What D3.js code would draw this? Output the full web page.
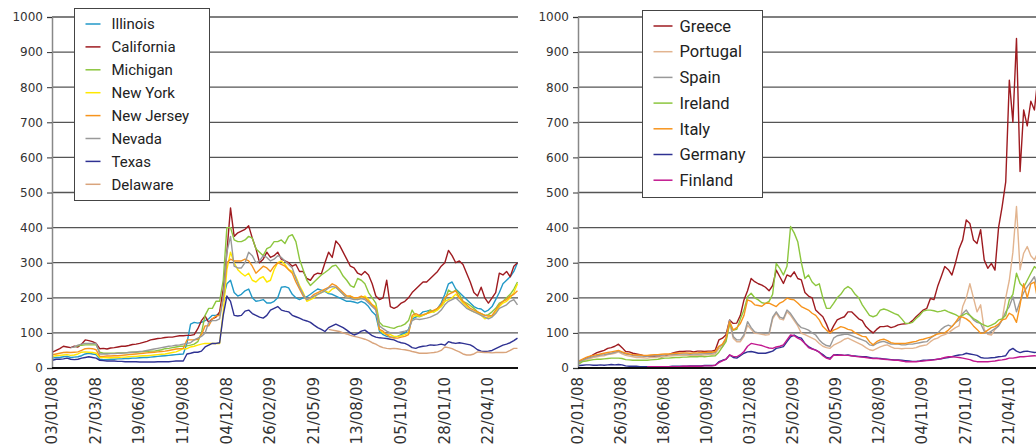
<!DOCTYPE html>
<html>
<head>
<meta charset="utf-8">
<script src="https://cdnjs.cloudflare.com/ajax/libs/d3/7.8.5/d3.min.js"></script>
<style>
  body { margin: 0; background: #fff; }
  svg { display: block; }
</style>
</head>
<body>
<div id="chart"></div>
<script>
// weekly observations (fridays), first one 04/01/08, 129 weeks
var firstWeek = "04/01/08";
var weekCount = 129;

var yTicks = [0, 100, 200, 300, 400, 500, 600, 700, 800, 900, 1000];
var leftTicks = ["03/01/08", "27/03/08", "19/06/08", "11/09/08", "04/12/08", "26/02/09",
                 "21/05/09", "13/08/09", "05/11/09", "28/01/10", "22/04/10"];
var rightTicks = ["02/01/08", "26/03/08", "18/06/08", "10/09/08", "03/12/08", "25/02/09",
                  "20/05/09", "12/08/09", "04/11/09", "27/01/10", "21/04/10"];

// ---- US states (left) ----
var illinois = [
  28, 30, 30, 32, 33, 30, 31, 32, 35, 40,
  42, 40, 38, 25, 24, 24, 25, 25, 26, 26,
  27, 27, 28, 28, 29, 30, 30, 31, 32, 33,
  34, 35, 36, 37, 38, 39, 40, 70, 125, 130,
  128, 130, 135, 140, 150, 150, 155, 200, 240, 250,
  215, 205, 210, 220, 225, 200, 190, 192, 195, 185,
  185, 190, 200, 230, 232, 228, 210, 200, 195, 200,
  203, 210, 218, 225, 222, 218, 212, 210, 205, 200,
  195, 190, 190, 188, 185, 190, 185, 175, 160, 150,
  105, 95, 90, 88, 88, 90, 95, 100, 110, 140,
  145, 150, 160, 162, 165, 160, 170, 185, 210, 240,
  245, 225, 215, 205, 195, 185, 175, 170, 168, 160,
  165, 175, 195, 215, 240, 250, 260, 275, 300
];
var california = [
  45, 50, 55, 62, 60, 58, 62, 60, 68, 80,
  78, 75, 70, 55, 56, 54, 57, 58, 60, 62,
  62, 64, 67, 68, 70, 73, 76, 80, 82, 84,
  85, 87, 88, 88, 90, 92, 92, 93, 93, 95,
  112, 135, 148, 130, 140, 145, 160, 225, 330, 456,
  375, 385, 390, 395, 405, 370, 340, 300, 310, 330,
  315, 320, 330, 310, 305, 300, 290, 295, 275, 275,
  255, 250, 265, 270, 268, 300, 330, 315, 362, 350,
  330, 310, 290, 285, 270, 265, 275, 265, 240, 205,
  195, 200, 250, 175, 170, 175, 185, 190, 200, 215,
  225, 235, 245, 245, 255, 265, 275, 290, 300, 335,
  320, 300, 305, 295, 270, 245, 215, 205, 230, 200,
  185, 200, 215, 270, 265, 275, 260, 290, 300
];
// michigan starts in week 6
var michigan = [
  60, 63, 65, 66,
  66, 66, 66, 45, 42, 42, 42, 42, 43, 43,
  43, 44, 45, 45, 46, 47, 47, 48, 48, 50,
  52, 55, 56, 58, 60, 62, 62, 63, 65, 68,
  75, 100, 150, 170, 170, 190, 190, 250, 400, 400,
  365, 360, 360, 365, 375, 370, 340, 330, 320, 340,
  345, 360, 360, 365, 355, 375, 380, 360, 310, 280,
  250, 235, 245, 255, 265, 272, 280, 290, 293, 280,
  262, 250, 235, 230, 255, 250, 240, 215, 200, 185,
  130, 120, 118, 115, 113, 118, 120, 125, 135, 165,
  148, 146, 150, 155, 165, 160, 170, 175, 190, 222,
  215, 222, 210, 190, 185, 178, 170, 160, 155, 150,
  152, 160, 170, 185, 190, 200, 210, 225, 245
];
var newYork = [
  33, 35, 36, 37, 38, 36, 37, 40, 45, 46,
  45, 44, 42, 30, 30, 29, 29, 30, 30, 31,
  31, 32, 33, 33, 34, 35, 35, 36, 37, 38,
  39, 40, 42, 44, 46, 50, 55, 55, 60, 62,
  65, 68, 70, 70, 70, 70, 70, 160, 280, 330,
  300, 280, 270, 262, 270, 250, 245, 255, 260, 245,
  250, 280, 300, 305, 295, 280, 275, 260, 235, 215,
  190, 195, 200, 210, 215, 220, 215, 225, 230, 220,
  210, 200, 205, 200, 195, 200, 205, 195, 180, 175,
  110, 100, 95, 95, 90, 90, 92, 95, 100, 145,
  150, 148, 150, 155, 158, 160, 165, 175, 190, 195,
  200, 210, 200, 185, 175, 165, 160, 158, 150, 140,
  145, 148, 160, 175, 185, 190, 200, 215, 240
];
var newJersey = [
  38, 40, 42, 44, 45, 44, 45, 46, 50, 55,
  56, 55, 52, 33, 33, 34, 34, 35, 35, 36,
  37, 38, 39, 40, 41, 42, 43, 44, 45, 46,
  47, 48, 50, 52, 54, 55, 56, 80, 80, 80,
  82, 95, 120, 120, 140, 148, 150, 200, 300, 310,
  305, 305, 305, 310, 305, 290, 270, 280, 290, 285,
  275, 290, 300, 295, 290, 280, 270, 245, 225, 205,
  195, 200, 210, 215, 220, 225, 230, 240, 235, 225,
  215, 205, 205, 200, 200, 205, 200, 190, 180, 170,
  110, 105, 95, 88, 85, 85, 88, 90, 95, 150,
  155, 150, 152, 155, 160, 165, 170, 180, 200, 210,
  215, 220, 200, 190, 180, 170, 165, 160, 155, 150,
  148, 150, 165, 180, 190, 195, 205, 210, 220
];
// nevada starts in week 5
var nevada = [
  58, 60, 65, 68, 70,
  70, 70, 70, 40, 40, 40, 41, 41, 42, 42,
  43, 44, 45, 46, 47, 48, 50, 52, 54, 56,
  58, 60, 62, 63, 65, 66, 68, 70, 72, 80,
  85, 90, 100, 130, 135, 135, 140, 200, 330, 375,
  290, 285, 285, 300, 330, 320, 300, 305, 320, 315,
  305, 310, 320, 315, 305, 295, 285, 255, 230, 210,
  195, 200, 205, 210, 215, 220, 228, 232, 230, 220,
  210, 200, 198, 195, 195, 198, 195, 185, 175, 165,
  120, 112, 105, 100, 100, 100, 103, 105, 108, 135,
  140, 138, 140, 142, 145, 150, 155, 165, 180, 190,
  195, 200, 190, 180, 170, 165, 160, 155, 150, 145,
  140, 145, 155, 170, 175, 180, 190, 195, 180
];
var texas = [
  22, 25, 25, 26, 28, 25, 24, 25, 28, 30,
  32, 30, 28, 22, 21, 20, 20, 20, 19, 19,
  18, 18, 18, 18, 17, 17, 17, 17, 17, 18,
  18, 18, 18, 19, 20, 20, 20, 40, 42, 45,
  45, 48, 60, 65, 70, 70, 72, 150, 205, 190,
  150, 148, 150, 162, 165, 155, 150, 145, 142, 150,
  165, 170, 175, 165, 162, 160, 150, 146, 142, 137,
  134, 130, 122, 115, 110, 104, 115, 120, 125, 120,
  115, 108, 100, 94, 98, 105, 108, 100, 92, 88,
  86, 85, 84, 82, 80, 75, 72, 70, 65, 58,
  56, 60, 62, 63, 66, 65, 66, 68, 65, 75,
  72, 70, 72, 70, 68, 66, 60, 52, 48, 47,
  48, 50, 55, 60, 65, 68, 72, 78, 85
];
// delaware starts in week 76
var delaware = [
  110, 108, 106, 104,
  100, 97, 93, 90, 88, 85, 82, 78, 72, 68,
  62, 58, 56, 55, 56, 55, 53, 52, 50, 47,
  45, 42, 42, 42, 43, 44, 46, 50, 60, 58,
  55, 50, 46, 40, 37, 37, 40, 46, 45, 44,
  44, 43, 44, 44, 44, 45, 50, 56, 56
];

// ---- euro area sovereigns (right) ----
var greece = [
  18, 22, 28, 32, 38, 44, 47, 50, 56, 58,
  62, 68, 58, 47, 46, 42, 40, 38, 35, 33,
  34, 33, 35, 32, 34, 38, 42, 45, 47, 47,
  48, 48, 46, 48, 48, 47, 48, 48, 51, 80,
  85, 95, 137, 127, 128, 150, 194, 220, 255, 246,
  240, 236, 230, 220, 235, 279, 260, 241, 265, 260,
  274, 255, 251, 215, 205, 200, 165, 155, 146, 125,
  100, 120, 137, 142, 146, 160, 160, 150, 140, 135,
  118, 108, 100, 110, 118, 118, 120, 115, 118, 123,
  125, 126, 127, 135, 146, 155, 165, 170, 198, 195,
  232, 260, 289, 280, 265, 300, 340, 365, 422, 412,
  365, 355, 394, 308, 284, 298, 279, 400, 460, 530,
  820, 700, 939, 560, 735, 690, 760, 735, 830
];
var portugal = [
  15, 20, 24, 27, 30, 32, 34, 35, 38, 40,
  42, 46, 40, 36, 34, 32, 30, 30, 29, 28,
  30, 30, 31, 32, 33, 34, 35, 36, 36, 36,
  36, 35, 36, 37, 36, 37, 38, 38, 40, 55,
  60, 80, 127, 85, 75, 75, 90, 122, 110, 99,
  98, 96, 94, 95, 140, 156, 140, 137, 160, 150,
  135, 120, 99, 95, 90, 85, 80, 70, 62, 58,
  56, 65, 70, 75, 82, 85, 80, 75, 70, 65,
  58, 52, 50, 55, 60, 64, 66, 60, 56, 56,
  55, 56, 56, 56, 58, 62, 64, 66, 75, 82,
  85, 92, 95, 100, 108, 115, 120, 175, 200, 240,
  200, 160, 180, 110, 96, 94, 110, 120, 137, 200,
  250, 330, 460, 280, 327, 346, 320, 308, 330
];
var spain = [
  16, 22, 27, 30, 33, 35, 37, 38, 40, 42,
  45, 48, 44, 40, 38, 36, 35, 34, 34, 33,
  34, 35, 35, 36, 37, 38, 38, 39, 40, 40,
  40, 39, 40, 40, 40, 41, 41, 42, 44, 60,
  65, 85, 137, 90, 80, 80, 95, 132, 115, 103,
  100, 100, 99, 100, 145, 160, 145, 141, 165, 155,
  140, 125, 115, 112, 108, 100, 94, 80, 70, 64,
  62, 85, 92, 94, 96, 96, 92, 88, 84, 80,
  76, 66, 64, 70, 74, 76, 72, 68, 68, 68,
  66, 66, 68, 68, 70, 72, 74, 75, 85, 92,
  99, 110, 118, 122, 118, 130, 137, 155, 165, 150,
  137, 130, 127, 105, 99, 105, 112, 120, 137, 160,
  175, 203, 160, 190, 215, 232, 245, 260, 220
];
var ireland = [
  12, 18, 20, 22, 24, 25, 25, 26, 27, 28,
  28, 28, 27, 24, 23, 22, 22, 22, 22, 22,
  23, 24, 25, 27, 28, 28, 29, 30, 30, 31,
  31, 32, 32, 32, 33, 32, 33, 34, 35, 45,
  60, 75, 127, 108, 110, 140, 165, 203, 213, 200,
  194, 186, 184, 190, 210, 298, 284, 265, 290, 403,
  385, 360, 300, 255, 265, 245, 235, 240, 200, 170,
  170, 184, 200, 210, 225, 232, 225, 210, 200, 180,
  165, 150, 146, 150, 165, 168, 165, 160, 155, 151,
  140, 127, 127, 130, 141, 150, 162, 165, 165, 163,
  160, 162, 165, 160, 156, 152, 146, 150, 156, 150,
  141, 135, 127, 122, 118, 122, 127, 137, 140, 150,
  194, 210, 270, 241, 230, 250, 270, 289, 280
];
var italy = [
  20, 25, 30, 34, 36, 38, 40, 42, 44, 46,
  48, 50, 46, 42, 40, 38, 37, 37, 36, 36,
  37, 38, 38, 39, 40, 40, 41, 42, 42, 43,
  43, 42, 43, 43, 44, 44, 45, 45, 47, 62,
  68, 85, 132, 108, 115, 127, 150, 194, 190, 180,
  178, 176, 184, 185, 180, 175, 185, 190, 199, 196,
  194, 185, 175, 170, 165, 156, 150, 137, 118, 108,
  100, 108, 112, 118, 115, 110, 108, 100, 95, 90,
  89, 75, 66, 75, 80, 82, 78, 72, 70, 70,
  70, 70, 72, 74, 76, 80, 82, 85, 88, 92,
  97, 99, 100, 108, 118, 130, 146, 145, 140, 132,
  120, 110, 99, 100, 108, 115, 118, 125, 137, 140,
  156, 150, 130, 180, 240, 200, 240, 245, 190
];
var germany = [
  7, 8, 9, 9, 8, 8, 9, 8, 9, 10,
  9, 10, 9, 6, 5, 5, 5, 4, 4, 4,
  4, 4, 4, 4, 4, 4, 5, 5, 5, 5,
  5, 6, 6, 6, 6, 7, 7, 7, 8, 18,
  22, 25, 37, 30, 28, 35, 42, 46, 47, 45,
  42, 42, 42, 45, 48, 56, 58, 61, 75, 89,
  94, 88, 85, 70, 61, 55, 51, 45, 38, 30,
  28, 37, 38, 37, 36, 37, 35, 34, 33, 32,
  32, 30, 28, 28, 27, 26, 25, 24, 23, 23,
  22, 21, 20, 19, 19, 20, 22, 22, 23, 24,
  25, 26, 28, 30, 32, 35, 37, 38, 42, 40,
  38, 36, 30, 28, 28, 29, 30, 32, 33, 35,
  50, 56, 48, 44, 47, 48, 46, 44, 45
];
// finland starts in week 19
var finland = [
  4,
  4, 4, 4, 4, 4, 4, 4, 4, 4, 5,
  5, 5, 5, 5, 5, 6, 6, 6, 8, 15,
  20, 25, 37, 33, 32, 38, 47, 62, 70, 68,
  66, 64, 60, 57, 56, 60, 62, 66, 80, 94,
  92, 85, 80, 70, 58, 54, 51, 45, 35, 28,
  25, 37, 36, 37, 36, 36, 35, 33, 32, 31,
  30, 28, 27, 27, 26, 25, 24, 23, 22, 22,
  20, 18, 18, 18, 18, 19, 20, 21, 22, 23,
  25, 27, 30, 32, 32, 31, 30, 28, 26, 24,
  20, 18, 18, 18, 18, 19, 20, 22, 23, 25,
  28, 28, 30, 32, 32, 33, 34, 35, 34
];

var leftSeries = [
  {name: "Illinois",   color: "#2299c8", start: 0,  values: illinois},
  {name: "California", color: "#9e1b20", start: 0,  values: california},
  {name: "Michigan",   color: "#8cc63e", start: 6,  values: michigan},
  {name: "New York",   color: "#ffe800", start: 0,  values: newYork},
  {name: "New Jersey", color: "#f7941d", start: 0,  values: newJersey},
  {name: "Nevada",     color: "#999999", start: 5,  values: nevada},
  {name: "Texas",      color: "#2e3192", start: 0,  values: texas},
  {name: "Delaware",   color: "#d9a47c", start: 76, values: delaware}
];
var rightSeries = [
  {name: "Greece",   color: "#9e1b20", start: 0,  values: greece},
  {name: "Portugal", color: "#e2b48f", start: 0,  values: portugal},
  {name: "Spain",    color: "#999999", start: 0,  values: spain},
  {name: "Ireland",  color: "#8cc63e", start: 0,  values: ireland},
  {name: "Italy",    color: "#f7941d", start: 0,  values: italy},
  {name: "Germany",  color: "#2e3192", start: 0,  values: germany},
  {name: "Finland",  color: "#c2188f", start: 19, values: finland}
];

var parseDate = d3.timeParse("%d/%m/%y");
var weeks = d3.range(weekCount).map(function(i) {
  return d3.timeDay.offset(parseDate(firstWeek), i * 7);
});

var width = 1036, height = 447;
var svg = d3.select("#chart").append("svg")
    .attr("width", width)
    .attr("height", height);

function drawPanel(p) {
  var g = svg.append("g");

  var x = d3.scaleTime()
      .domain([parseDate(p.from), parseDate(p.to)])
      .range([p.left, p.right]);
  var y = d3.scaleLinear()
      .domain([0, 1000])
      .range([368, 17]);

  // grid lines
  g.selectAll(".grid")
      .data(yTicks.slice(1))
    .enter().append("line")
      .attr("x1", p.left)
      .attr("x2", p.gridEnd)
      .attr("y1", function(d) { return y(d); })
      .attr("y2", function(d) { return y(d); })
      .style("stroke", "#555")
      .style("stroke-width", 1.3);

  // series
  var line = d3.line()
      .x(function(d) { return x(d.date); })
      .y(function(d) { return y(d.v); });

  p.series.forEach(function(s) {
    var pts = s.values.map(function(v, i) { return {date: weeks[s.start + i], v: v}; });
    g.append("path")
        .datum(pts)
        .attr("d", line)
        .style("fill", "none")
        .style("stroke", s.color)
        .style("stroke-width", 1.4)
        .style("stroke-linejoin", "round");
  });

  // y axis
  var ax = g.append("g")
      .attr("transform", "translate(" + p.left + ",0)")
      .call(d3.axisLeft(y).tickValues(yTicks).tickFormat(d3.format("d"))
              .tickSize(5).tickPadding(4));
  ax.select(".domain").style("stroke", "#888").style("stroke-width", 1.5);
  ax.selectAll(".tick line").style("stroke", "#333");
  ax.selectAll(".tick text")
      .style("font-family", "DejaVu Sans, Verdana, sans-serif")
      .style("font-size", "12px")
      .style("fill", "#333");

  // x axis line
  g.append("line")
      .attr("x1", p.left)
      .attr("x2", p.gridEnd)
      .attr("y1", y(0))
      .attr("y2", y(0))
      .style("stroke", "#111")
      .style("stroke-width", 2);

  // x labels, rotated
  g.selectAll(".xlab")
      .data(p.ticks)
    .enter().append("text")
      .attr("transform", function(d) { return "translate(" + x(parseDate(d)) + ",377) rotate(-90)"; })
      .attr("dy", "0.35em")
      .attr("text-anchor", "end")
      .style("font-family", "DejaVu Sans, Verdana, sans-serif")
      .style("font-size", "15px")
      .style("fill", "#333")
      .text(function(d) { return d; });

  // legend
  var lg = g.append("g");
  lg.append("rect")
      .attr("x", p.legend.x)
      .attr("y", p.legend.y)
      .attr("width", p.legend.w)
      .attr("height", p.legend.h)
      .style("fill", "#fff")
      .style("stroke", "#444")
      .style("stroke-width", 1);
  p.series.forEach(function(s, i) {
    var ly = p.legend.first + i * p.legend.step;
    lg.append("line")
        .attr("x1", p.legend.x + p.legend.sample[0])
        .attr("x2", p.legend.x + p.legend.sample[1])
        .attr("y1", ly)
        .attr("y2", ly)
        .style("stroke", s.color)
        .style("stroke-width", 1.5);
    lg.append("text")
        .attr("x", p.legend.x + p.legend.textX)
        .attr("y", ly)
        .attr("dy", "0.35em")
        .style("font-family", "Roboto, sans-serif")
        .style("font-size", p.legend.font + "px")
        .style("fill", "#222")
        .text(s.name);
  });
}

drawPanel({
  left: 52, right: 518, gridEnd: 518,
  from: "03/01/08", to: "19/06/10",
  ticks: leftTicks, series: leftSeries,
  legend: {x: 74.5, y: 8.5, w: 135, h: 192, first: 24, step: 22.9,
           sample: [11, 26], textX: 37, font: 15}
});
drawPanel({
  left: 578, right: 1038, gridEnd: 1036,
  from: "02/01/08", to: "18/06/10",
  ticks: rightTicks, series: rightSeries,
  legend: {x: 642.5, y: 10.5, w: 120, h: 187, first: 26, step: 25.7,
           sample: [11, 30], textX: 37, font: 16.5}
});
</script>
</body>
</html>
